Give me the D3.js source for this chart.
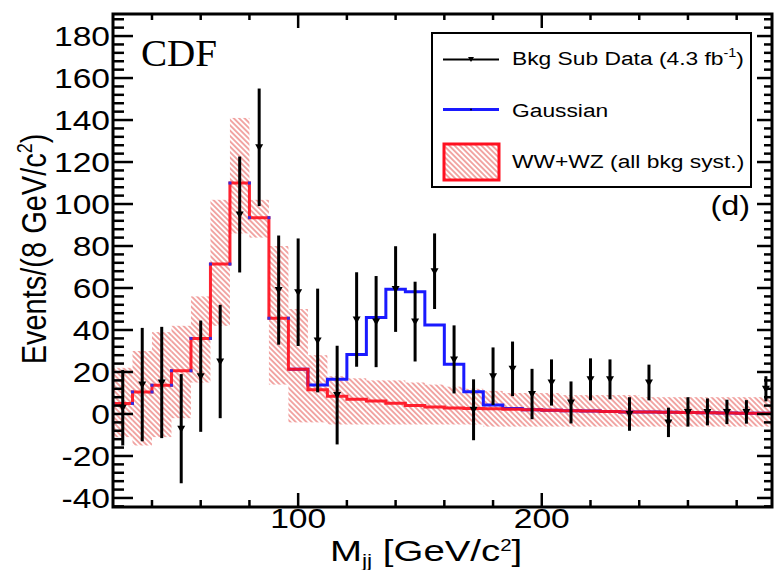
<html>
<head>
<script src="https://d3js.org/d3.v7.min.js"></script>
<style>
    body { margin: 0; background: #fff; }
    text { font-family: "Liberation Sans", Arial, sans-serif; fill: #000; }
</style>
</head>
<body>
<svg id="chart" width="777" height="570"></svg>
<script>
// bin centres (GeV/c^2), 8 GeV bins
const binCenters = [28, 36, 44, 52, 60, 68, 76, 84, 92, 100, 108, 116, 124, 132, 140, 148, 156,
    164, 172, 180, 188, 196, 204, 212, 220, 228, 236, 244, 252, 260, 268, 276, 284, 292];
// WW+WZ template (red)
const bkgHist = [5, 10.5, 13.7, 20.6, 36, 71.4, 110, 93.5, 45.6, 21.3, 11.6, 8.4, 7.0, 6.2, 5.1, 4.1, 3.3,
    2.9, 2.6, 2.5, 2.3, 2.0, 1.8, 1.6, 1.4, 1.2, 1.0, 0.9, 0.8, 0.7, 0.6, 0.5, 0.4, 0.4];
// Gaussian + WW+WZ (blue)
const gaussHist = [null, null, null, null, null, null, null, null, null, 21.3, 13.8, 16.6, 28.3, 46, 59.4, 58.2, 42.4,
    23.7, 10.6, 4.3, 2.6, 2.0, 1.8, 1.6, 1.4, 1.2, 1.0, 0.9, 0.8, 0.7, 0.6, 0.5, 0.4, 0.4];
// systematic band
const bandHigh = [22, 30, 39, 42, 56, 102, 141, 102, 80, 50, 28, 18, 17, 16, 16, 15, 14,
    13, 12, 11, 10, 10, 10, 9, 9, 9, 9, 8, 8, 8, 8, 8, 8, 8];
const bandLow = [-11, -15, -11, -2, 15, 42, 86, 84, 14, -4, -4, -5, -5, -5, -5, -5, -5,
    -5, -5, -6, -6, -6, -6, -6, -6, -6, -6, -6, -6, -6, -6, -6, -6, -6];
// background subtracted data
const dataVals = [3, 14, 15, -7, 18, 25, 95, 127, 59, 58, 35, 9, 45, 44, 59.5, 44, 68,
    26, 2, 18, 21.5, 9.5, 15, 5.5, 16.5, 16.5, 0, 15, -4, 1, 1, 1, 1, 12];
const dataErr = [18, 27, 26.5, 26, 26.5, 27, 27.6, 28, 26, 25.6, 24.7, 23.5, 22.5, 21.7, 20.4, 19, 18,
    16.2, 14.5, 13.7, 13, 12, 11, 10, 10, 9.5, 8, 8.5, 7, 7, 6.4, 5.8, 5.6, 6];

const yMajor = [-40, -20, 0, 20, 40, 60, 80, 100, 120, 140, 160, 180];
const xMajor = [100, 200];
const binWidth = 8;

const svg = d3.select("svg#chart");
const frame = { left: 113, right: 772, top: 14, bottom: 507 };

const x = d3.scaleLinear().domain([24, 294.5]).range([frame.left, frame.right]);
const y = d3.scaleLinear().domain([-44.3, 190.5]).range([frame.bottom, frame.top]);

const defs = svg.append("defs");
const hatch = defs.append("pattern").attr("id", "hatch")
    .attr("patternUnits", "userSpaceOnUse")
    .attr("width", 3.8).attr("height", 4)
    .attr("patternTransform", "rotate(-45)");
hatch.append("line")
    .attr("x1", 1.9).attr("y1", -1).attr("x2", 1.9).attr("y2", 5)
    .attr("stroke", "#e0302c").attr("stroke-width", 1).attr("stroke-opacity", 0.85);

defs.append("clipPath").attr("id", "plotclip")
    .append("rect")
    .attr("x", frame.left).attr("y", frame.top)
    .attr("width", frame.right - frame.left).attr("height", frame.bottom - frame.top);

const plot = svg.append("g").attr("clip-path", "url(#plotclip)");

const bins = binCenters.map((c, i) => ({
    lo: c - binWidth / 2, hi: c + binWidth / 2,
    bkg: bkgHist[i], sig: gaussHist[i],
    bLo: bandLow[i], bHi: bandHigh[i],
    v: dataVals[i], e: dataErr[i]
}));

// band
plot.selectAll("rect.band").data(bins).join("rect")
    .attr("class", "band")
    .attr("x", d => x(d.lo))
    .attr("width", d => x(d.hi) - x(d.lo))
    .attr("y", d => y(d.bHi))
    .attr("height", d => y(d.bLo) - y(d.bHi))
    .attr("fill", "url(#hatch)");

function stepPoints(arr, key) {
    const pts = [];
    arr.forEach(d => {
        if (d[key] == null) return;
        pts.push([x(d.lo), y(d[key])]);
        pts.push([x(d.hi), y(d[key])]);
    });
    return pts;
}
const line = d3.line();

plot.append("path")
    .attr("d", line(stepPoints(bins, "sig")))
    .attr("fill", "none").attr("stroke", "#1a1aff").attr("stroke-width", 3);

plot.append("path")
    .attr("d", line(stepPoints(bins, "bkg")))
    .attr("fill", "none").attr("stroke", "#ff1020").attr("stroke-width", 3)
    .attr("stroke-opacity", 0.92);

// little blue end caps ROOT leaves on the red steps
const capped = bins.filter(d => d.sig == null);
plot.selectAll("rect.cap").data(capped.flatMap(d => [[d.lo, d.bkg], [d.hi, d.bkg]])).join("rect")
    .attr("class", "cap")
    .attr("x", d => x(d[0]) - 1.5).attr("y", d => y(d[1]) - 1.5)
    .attr("width", 3).attr("height", 3)
    .attr("fill", "#3a2ad8");

// data
plot.selectAll("line.err").data(bins).join("line")
    .attr("class", "err")
    .attr("x1", d => x((d.lo + d.hi) / 2)).attr("x2", d => x((d.lo + d.hi) / 2))
    .attr("y1", d => y(d.v - d.e)).attr("y2", d => y(d.v + d.e))
    .attr("stroke", "#000").attr("stroke-width", 3);

plot.selectAll("path.mk").data(bins).join("path")
    .attr("class", "mk")
    .attr("d", d => {
        const cx = x((d.lo + d.hi) / 2), cy = y(d.v);
        return `M${cx - 4},${cy - 3}L${cx + 4},${cy - 3}L${cx},${cy + 4}Z`;
    })
    .attr("fill", "#000");

// frame and ticks
const axes = svg.append("g");
axes.append("rect")
    .attr("x", frame.left).attr("y", frame.top)
    .attr("width", frame.right - frame.left).attr("height", frame.bottom - frame.top)
    .attr("fill", "none").attr("stroke", "#000").attr("stroke-width", 3);

const yMinor = d3.range(-44, 190, 4).filter(v => !yMajor.includes(v));
function ticks(vals, len, side) {
    vals.forEach(v => {
        let a;
        if (side === "left") a = [frame.left, y(v), frame.left + len, y(v)];
        if (side === "right") a = [frame.right, y(v), frame.right - len, y(v)];
        if (side === "bottom") a = [x(v), frame.bottom, x(v), frame.bottom - len];
        if (side === "top") a = [x(v), frame.top, x(v), frame.top + len];
        axes.append("line")
            .attr("x1", a[0]).attr("y1", a[1]).attr("x2", a[2]).attr("y2", a[3])
            .attr("stroke", "#000").attr("stroke-width", 2.5);
    });
}
ticks(yMajor, 20, "left");
ticks(yMinor, 11, "left");
ticks(yMajor, 15, "right");
ticks(yMinor, 8, "right");
const xMinor = d3.range(40, 294, 20).filter(v => !xMajor.includes(v));
ticks(xMajor, 14, "bottom");
ticks(xMinor, 7, "bottom");
ticks(xMajor, 14, "top");
ticks(xMinor, 6, "top");

// tick labels
yMajor.forEach(v => {
    svg.append("text")
        .attr("transform", `translate(110,${y(v) + 10}) scale(1.2,1)`)
        .attr("text-anchor", "end")
        .attr("font-size", 28)
        .text(v);
});
xMajor.forEach(v => {
    svg.append("text")
        .attr("transform", `translate(${x(v)},528) scale(1.2,1)`)
        .attr("text-anchor", "middle")
        .attr("font-size", 28)
        .text(v);
});

// axis titles
const yl = svg.append("text")
    .attr("transform", "translate(46,249) scale(1.2,1) rotate(-90)")
    .attr("text-anchor", "middle")
    .attr("font-size", 29);
yl.append("tspan").text("Events/(8 GeV/c");
yl.append("tspan").attr("font-size", 18).attr("dy", -12).text("2");
yl.append("tspan").attr("dy", 12).text(")");

const xl = svg.append("text")
    .attr("transform", "translate(330,561) scale(1.28,1)")
    .attr("font-size", 30);
xl.append("tspan").text("M");
xl.append("tspan").attr("font-size", 18).attr("dy", 6).text("jj");
xl.append("tspan").attr("dy", -6).text(" [GeV/c");
xl.append("tspan").attr("font-size", 16).attr("dy", -10).text("2");
xl.append("tspan").attr("dy", 10).text("]");

svg.append("text")
    .attr("transform", "translate(141,66) scale(1.03,1)")
    .style("font-family", "'Liberation Serif', 'Times New Roman', serif")
    .attr("font-size", 38)
    .text("CDF");

svg.append("text")
    .attr("transform", "translate(750,215) scale(1.2,1)")
    .attr("text-anchor", "end")
    .attr("font-size", 27)
    .text("(d)");

// legend
const lg = svg.append("g");
lg.append("rect")
    .attr("x", 432).attr("y", 33).attr("width", 319).attr("height", 154)
    .attr("fill", "#fff").attr("stroke", "#000").attr("stroke-width", 2);

lg.append("line").attr("x1", 443).attr("x2", 499).attr("y1", 59.5).attr("y2", 59.5)
    .attr("stroke", "#000").attr("stroke-width", 2);
lg.append("path").attr("d", "M468,57L474,57L471,62Z").attr("fill", "#000");

lg.append("line").attr("x1", 443).attr("x2", 499).attr("y1", 109.5).attr("y2", 109.5)
    .attr("stroke", "#1a1aff").attr("stroke-width", 3);
lg.append("circle").attr("cx", 471).attr("cy", 109.5).attr("r", 1).attr("fill", "#000");

lg.append("rect").attr("x", 444).attr("y", 144).attr("width", 55).attr("height", 36)
    .attr("fill", "url(#hatch)").attr("stroke", "#ff1020").attr("stroke-width", 3);

const t1 = lg.append("text").attr("transform", "translate(512,65) scale(1.2,1)").attr("font-size", 19);
t1.append("tspan").text("Bkg Sub Data (4.3 fb");
t1.append("tspan").attr("font-size", 12).attr("dy", -8).text("-1");
t1.append("tspan").attr("dy", 8).text(")");

lg.append("text").attr("transform", "translate(512,117) scale(1.2,1)").attr("font-size", 19)
    .text("Gaussian");
lg.append("text").attr("transform", "translate(512,168) scale(1.2,1)").attr("font-size", 19)
    .text("WW+WZ (all bkg syst.)");
</script>
</body>
</html>
